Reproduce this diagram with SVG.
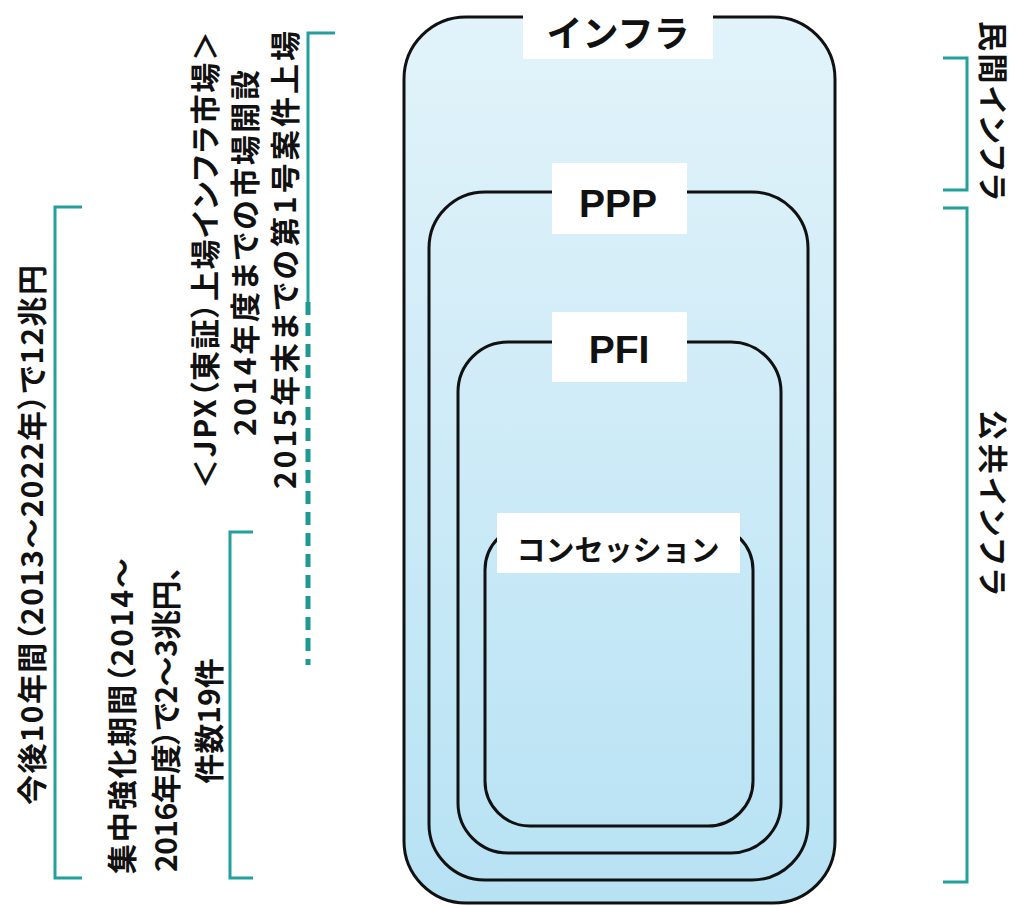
<svg xmlns="http://www.w3.org/2000/svg" width="1016" height="906" viewBox="0 0 1016 906">
<defs>
<linearGradient id="fillG" gradientUnits="userSpaceOnUse" x1="0" y1="17" x2="0" y2="903">
<stop offset="0" stop-color="#e2f3fa"/>
<stop offset="1" stop-color="#b7e2f4"/>
</linearGradient>
<style>
.box{fill:none;stroke:#111;stroke-width:3}
.lbl{fill:#fff}
.jp{font-family:"Noto Sans CJK JP","Noto Sans",sans-serif;fill:#111}
.lat{font-family:"Liberation Sans",Arial,sans-serif;font-weight:bold;fill:#111}
.side{font-size:30px;font-weight:bold;font-feature-settings:"palt"}
.br{fill:none;stroke:#23a09b;stroke-width:3}
.dash{fill:none;stroke:#1f9994;stroke-width:5;stroke-dasharray:13 8}
</style>
</defs>
<rect width="1016" height="906" fill="#fff"/>
<g id="infra">
<rect x="404" y="17" width="431" height="886" rx="62" fill="url(#fillG)" stroke="#111" stroke-width="3"/>
<rect class="lbl" x="523" y="0" width="190" height="59"/>
<text class="jp" x="618" y="31" font-size="36" font-weight="bold" text-anchor="middle" dominant-baseline="central">インフラ</text>
</g>
<g id="ppp">
<rect class="box" x="429" y="192" width="379" height="688" rx="56"/>
<rect class="lbl" x="552" y="163" width="135" height="71"/>
<text class="lat" x="618" y="217" font-size="39" text-anchor="middle">PPP</text>
</g>
<g id="pfi">
<rect class="box" x="458" y="342" width="323" height="511" rx="50"/>
<rect class="lbl" x="552" y="312" width="135" height="70"/>
<text class="lat" x="619" y="363" font-size="39" text-anchor="middle">PFI</text>
</g>
<g id="concession">
<rect class="box" x="485" y="525" width="268" height="301" rx="45"/>
<rect class="lbl" x="497" y="513" width="243" height="60"/>
<text class="jp" x="618" y="548" font-size="29" font-weight="bold" text-anchor="middle" dominant-baseline="central">コンセッション</text>
</g>
<g id="connectors">
<path class="br" d="M82,207 H55 V878 H82"/>
<path class="br" d="M253,532 H230 V878 H253"/>
<path class="br" d="M335,33 H308 V302"/>
<path class="dash" d="M308,302 V665"/>
<path class="br" d="M943,58 H967 V190 H943"/>
<path class="br" d="M943,208 H967 V882 H943"/>
</g>
<g id="label-total">
<text class="jp side" transform="translate(30,535) rotate(-90)" text-anchor="middle" dominant-baseline="central" textLength="540">今後10年間（2013～2022年）で12兆円</text>
</g>
<g id="label-intensive">
<text class="jp side" transform="translate(120,716) rotate(-90)" text-anchor="middle" dominant-baseline="central" textLength="316">集中強化期間（2014～</text>
<text class="jp side" transform="translate(164,719) rotate(-90)" text-anchor="middle" dominant-baseline="central" textLength="306">2016年度）で2～3兆円、</text>
<text class="jp side" transform="translate(207,721) rotate(-90)" text-anchor="middle" dominant-baseline="central">件数19件</text>
</g>
<g id="label-jpx">
<text class="jp side" transform="translate(203,260) rotate(-90)" text-anchor="middle" dominant-baseline="central" textLength="458">＜JPX（東証）上場インフラ市場＞</text>
<text class="jp side" transform="translate(243,253) rotate(-90)" text-anchor="middle" dominant-baseline="central" textLength="366">2014年度までの市場開設</text>
<text class="jp side" transform="translate(283,260) rotate(-90)" text-anchor="middle" dominant-baseline="central" textLength="458">2015年末までの第1号案件上場</text>
</g>
<g id="label-private">
<text class="jp side" transform="translate(995,111) rotate(90)" text-anchor="middle" dominant-baseline="central" textLength="180">民間インフラ</text>
</g>
<g id="label-public">
<text class="jp side" transform="translate(995,503) rotate(90)" text-anchor="middle" dominant-baseline="central" textLength="186">公共インフラ</text>
</g>
</svg>
